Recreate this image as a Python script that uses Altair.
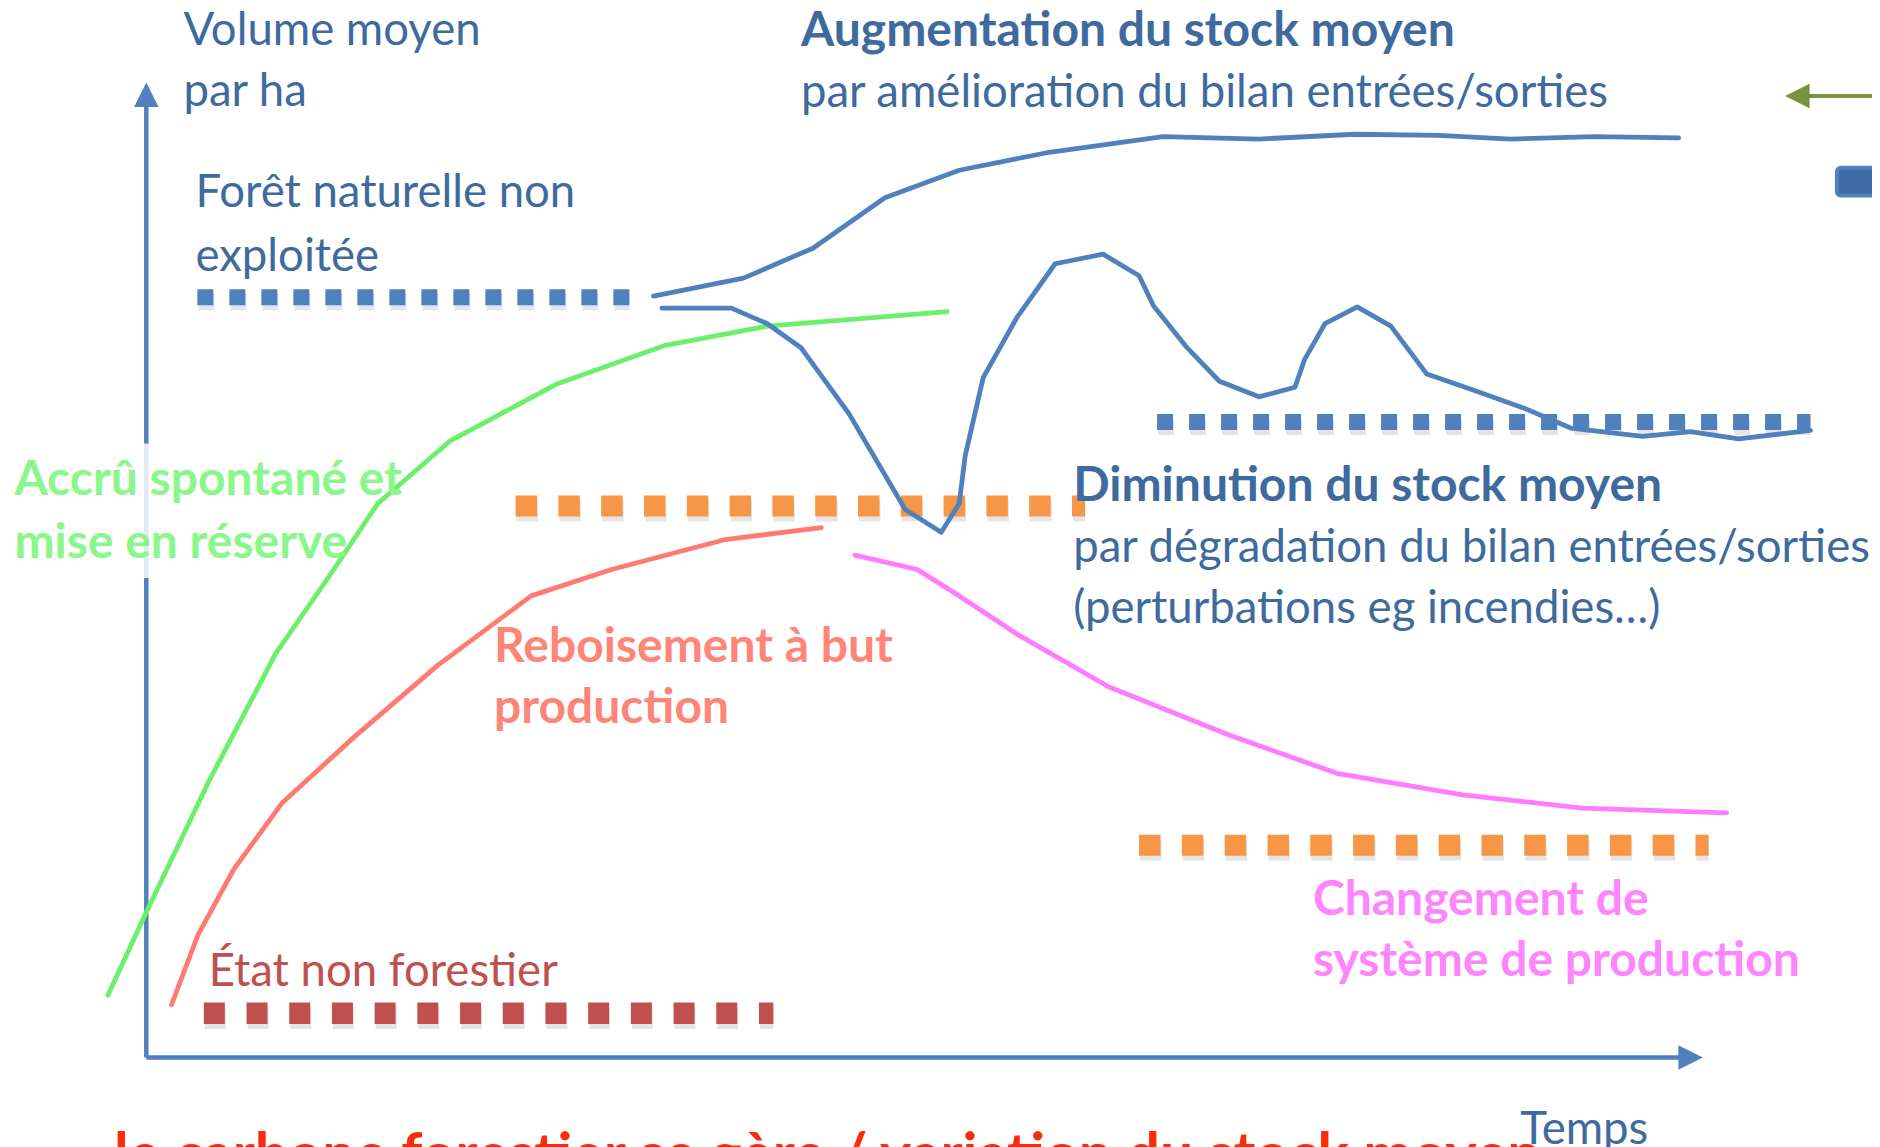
import altair as alt
import pandas as pd

# ---------------- data (time units / volume units) ----------------
up_t = [42.3, 49.8, 55.6, 61.6, 67.8, 75.3, 84.8, 92.8, 100.8, 107.8, 113.8, 120.8, 127.8]
up_v = [63.5, 65.0, 67.5, 71.7, 74.0, 75.5, 76.8, 76.6, 77.0, 76.9, 76.6, 76.8, 76.7]

down_t = [43.0, 48.8, 51.8, 54.6, 58.6, 63.3, 66.3, 67.8, 68.3, 69.8, 72.6, 75.8, 79.8, 82.8,
          84.0, 86.8, 89.5, 92.8, 95.8, 96.6, 98.3, 101.0, 103.8, 106.8, 110.3, 114.8, 118.8,
          124.8, 128.8, 132.8, 138.8]
down_v = [62.5, 62.5, 61.2, 59.2, 53.7, 45.7, 43.8, 46.2, 50.2, 56.7, 61.7, 66.2, 67.0, 65.2,
          62.7, 59.2, 56.4, 55.1, 55.9, 58.2, 61.2, 62.6, 61.0, 57.0, 55.8, 54.2, 52.5,
          51.8, 52.2, 51.6, 52.3]

green_t = [-3.2, -0.2, 5.3, 10.8, 15.3, 19.3, 25.3, 34.3, 43.3, 51.8, 66.8]
green_v = [5.2, 11.7, 23.2, 33.7, 40.2, 46.2, 51.4, 56.2, 59.4, 61.0, 62.2]

salmon_t = [2.1, 4.3, 7.3, 11.3, 17.3, 24.3, 32.1, 38.8, 48.3, 56.3]
salmon_v = [4.4, 10.2, 15.7, 21.2, 26.7, 32.7, 38.5, 40.7, 43.2, 44.2]

pink_t = [59.1, 64.3, 67.8, 72.8, 80.3, 90.3, 99.3, 109.8, 119.8, 131.8]
pink_v = [41.9, 40.7, 38.5, 35.2, 30.9, 26.9, 23.7, 21.9, 20.8, 20.4]

# dotted reference levels: start, end, level
lvl_names = ["foret", "bas_droite", "orange_haut", "orange_bas", "non_forestier"]
lvl_t1 = [4.26, 84.3, 30.8, 82.8, 4.8]
lvl_t2 = [40.3, 138.8, 78.3, 130.3, 52.3]
lvl_v = [63.4, 53.0, 46.0, 17.7, 3.7]

# axes (origin, arrow tips)
axis_t_end = 129.8
axis_v_end = 81.3

# texts
txt_labels = ["Volume moyen", "par ha",
              "Augmentation du stock moyen", "par amélioration du bilan entrées/sorties",
              "Forêt naturelle non", "exploitée",
              "Accrû spontané et", "mise en réserve",
              "Diminution du stock moyen", "par dégradation du bilan entrées/sorties",
              "(perturbations eg incendies…)",
              "Reboisement à but", "production",
              "Changement de", "système de production",
              "État non forestier", "Temps"]
txt_t = [3.1, 3.1, 54.6, 54.6, 4.1, 4.1, -11.0, -11.0, 77.3, 77.3, 77.3,
         29.0, 29.0, 97.3, 97.3, 5.2, 114.6]
txt_v = [84.45, 79.36, 84.4, 79.3, 70.9, 65.6, 46.9, 41.7, 46.4, 41.3, 36.2,
         33.0, 27.9, 11.9, 6.8, 6.0, -7.2]
txt_kind = ["blue", "blue", "blueb", "blue", "blue", "blue", "greenb", "greenb",
            "blueb", "blue", "blue", "salmonb", "salmonb", "pinkb", "pinkb", "darkred", "blue"]

bottom_text = "le carbone forestier se gère / variation du stock moyen"
bottom_t, bottom_v = -2.7, -5.85

# ---------------- layout ----------------
W, H = 1864, 1139
PPU = 11.99                    # pixels per unit
OX, OY = 146.3 - 8, 1057.5 - 8  # origin inside plot area
x_dom = [-OX / PPU, (W - OX) / PPU]
y_dom = [(OY - H) / PPU, OY / PPU]
xs = alt.Scale(domain=x_dom, nice=False, zero=False)
ys = alt.Scale(domain=y_dom, nice=False, zero=False)
X = lambda f="t": alt.X(f"{f}:Q", scale=xs, axis=None)
Y = lambda f="v": alt.Y(f"{f}:Q", scale=ys, axis=None)

BLUE = "#4F81BD"
TXT_BLUE = "#3E6A9E"
FONT = "Lato"
FS_NORMAL = 45.5
FS_BOLD = 48

layers = []

def line(t, v, color, width):
    df = pd.DataFrame({"t": t, "v": v, "i": list(range(len(t)))})
    return alt.Chart(df).mark_line(color=color, strokeWidth=width, strokeJoin="round",
                                   strokeCap="round").encode(x=X(), y=Y(), order="i:Q")

# axes
axes_df = pd.DataFrame({"t": [0, 0], "t2": [0, axis_t_end - 1.5], "v": [0, 0],
                        "v2": [axis_v_end - 1.5, 0]})
layers.append(alt.Chart(axes_df).mark_rule(color=BLUE, strokeWidth=4.5).encode(
    x=X(), x2="t2:Q", y=Y(), y2="v2:Q"))
arrow_df = pd.DataFrame({"t": [0, axis_t_end - 1.0], "v": [axis_v_end - 1.0, 0],
                         "s": ["up", "right"]})
layers.append(alt.Chart(arrow_df[arrow_df.s == "up"]).mark_point(
    shape="M0,-1L1,1L-1,1Z", size=600, filled=True, opacity=1, color=BLUE).encode(x=X(), y=Y()))
layers.append(alt.Chart(arrow_df[arrow_df.s == "right"]).mark_point(
    shape="M1,0L-1,1L-1,-1Z", size=600, filled=True, opacity=1, color=BLUE).encode(x=X(), y=Y()))

# white veil over the axis behind the green label
veil_df = pd.DataFrame({"t": [-0.7], "t2": [0.7], "v": [40.0], "v2": [51.2]})
layers.append(alt.Chart(veil_df).mark_rect(color="white", opacity=0.82).encode(
    x=X(), x2="t2:Q", y=Y(), y2="v2:Q"))

# dotted levels
lvl_df = pd.DataFrame({"name": lvl_names, "t": lvl_t1, "t2": lvl_t2, "v": lvl_v})
styles = {"foret": (BLUE, 16, [16, 16]), "bas_droite": (BLUE, 16, [16, 16]),
          "orange_haut": ("#F79646", 21, [21.5, 21.3]), "orange_bas": ("#F79646", 21, [21.5, 21.3]),
          "non_forestier": ("#C0504D", 21.5, [21, 21.7])}
for n, (c, w, d) in styles.items():
    sub = lvl_df[lvl_df.name == n]
    layers.append(alt.Chart(sub).mark_rule(color="#000000", opacity=0.10, strokeWidth=w,
                                           strokeDash=d, strokeCap="butt", yOffset=5, xOffset=1).encode(
        x=X(), x2="t2:Q", y=Y()))
    layers.append(alt.Chart(sub).mark_rule(color=c, strokeWidth=w, strokeDash=d,
                                           strokeCap="butt").encode(x=X(), x2="t2:Q", y=Y()))

# curves
layers.append(line(green_t, green_v, "#6CF06C", 4.8))
layers.append(line(salmon_t, salmon_v, "#FF7B72", 4.8))
layers.append(line(pink_t, pink_v, "#FF7BFF", 4.8))
layers.append(line(up_t, up_v, BLUE, 4.8))
layers.append(line(down_t, down_v, BLUE, 4.8))

# green arrow and blue shape at the top right
garrow_df = pd.DataFrame({"t": [138.5], "t2": [x_dom[1]], "v": [80.2]})
layers.append(alt.Chart(garrow_df).mark_rule(color="#77933C", strokeWidth=4).encode(
    x=X(), x2="t2:Q", y=Y()))
layers.append(alt.Chart(pd.DataFrame({"t": [137.7], "v": [80.2]})).mark_point(
    shape="M-1,0L1,-1L1,1Z", size=600, filled=True, opacity=1, color="#77933C").encode(x=X(), y=Y()))
bshape_df = pd.DataFrame({"t": [141.0], "t2": [x_dom[1] + 1], "v": [71.9], "v2": [74.2]})
layers.append(alt.Chart(bshape_df).mark_rect(color="#3F6CA4", stroke=BLUE, strokeWidth=4,
                                             cornerRadius=4, clip=True).encode(
    x=X(), x2="t2:Q", y=Y(), y2="v2:Q"))

# texts
kinds = {"blue": (TXT_BLUE, "normal"), "blueb": (TXT_BLUE, "bold"),
         "greenb": ("#8AF78A", "bold"), "salmonb": ("#FF8578", "bold"),
         "pinkb": ("#FF85FF", "bold"), "darkred": ("#C0504D", "normal")}
txt_df = pd.DataFrame({"text": txt_labels, "t": txt_t, "v": txt_v, "kind": txt_kind})
for k, (c, wgt) in kinds.items():
    sub = txt_df[txt_df.kind == k]
    layers.append(alt.Chart(sub).mark_text(align="left", baseline="alphabetic", font=FONT,
                                           fontSize=FS_BOLD if wgt == "bold" else FS_NORMAL,
                                           fontWeight=wgt, color=c).encode(
        x=X(), y=Y(), text="text:N"))

bt_df = pd.DataFrame({"text": [bottom_text], "t": [bottom_t], "v": [bottom_v]})
layers.append(alt.Chart(bt_df).mark_text(align="left", baseline="top", font=FONT, fontSize=59,
                                         fontWeight="bold", color="#FF2A0A", clip=True).encode(
    x=X(), y=Y(), text="text:N"))

chart = alt.layer(*layers).properties(width=W, height=H, padding=0, autosize="none").configure_view(
    stroke=None)

chart.save("out.html", embed_options={"renderer": "svg", "actions": False})
